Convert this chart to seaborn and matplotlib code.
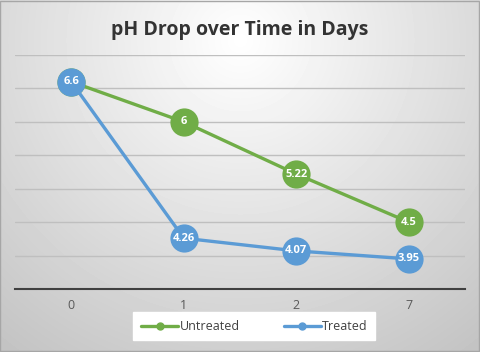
import numpy as np
import pandas as pd
import matplotlib.pyplot as plt
import seaborn as sns
from matplotlib.lines import Line2D

days = ['0', '1', '2', '7']
untreated = [6.6, 6.0, 5.22, 4.5]
treated = [6.6, 4.26, 4.07, 3.95]
untreated_labels = ['6.6', '6', '5.22', '4.5']
treated_labels = ['6.6', '4.26', '4.07', '3.95']

green = '#70AD47'
blue = '#5B9BD5'

sns.set_style('white')
plt.rcParams['font.family'] = ['Open Sans', 'DejaVu Sans']

fig = plt.figure(figsize=(4.8, 3.52), dpi=100)

# radial gradient background
bg = fig.add_axes([0, 0, 1, 1], zorder=-10)
yy, xx = np.mgrid[0:352, 0:480]
r = np.sqrt(((xx - 240) / 330.0) ** 2 + ((yy - 40) / 330.0) ** 2)
shade = np.clip(1.0 - 0.2 * r, 0, 1)
bg.imshow(shade, cmap='gray', vmin=0, vmax=1, aspect='auto', extent=[0, 1, 0, 1])
bg.set_axis_off()
bg.add_patch(plt.Rectangle((0.001, 0.002), 0.997, 0.995, transform=bg.transAxes,
                           fill=False, edgecolor='#A6A6A6', linewidth=1))

ax = fig.add_axes([15 / 480, 63 / 352, 450 / 480, 234 / 352])
ax.patch.set_alpha(0)

df = pd.DataFrame({'day': days * 2,
                   'ph': untreated + treated,
                   'series': ['Untreated'] * 4 + ['Treated'] * 4})

for name, color in [('Untreated', green), ('Treated', blue)]:
    sub = df[df['series'] == name]
    sns.pointplot(data=sub, x='day', y='ph', order=days, color=color, ax=ax,
                  markers='o', linewidth=2.4, legend=False)

for line in ax.lines:
    line.set_markersize(18.5)
    line.set_linewidth(2.4)
    line.set_zorder(3)

for i, (v, t) in enumerate(zip(untreated, untreated_labels)):
    if i == 0:
        continue
    ax.text(i, v, t, color='white', fontsize=8, fontweight='bold',
            ha='center', va='center', zorder=5)
for i, (v, t) in enumerate(zip(treated, treated_labels)):
    ax.text(i, v, t, color='white', fontsize=8, fontweight='bold',
            ha='center', va='center', zorder=5)

ax.set_ylim(3.5, 7.0)
ax.set_xlim(-0.5, 3.5)
ax.set_yticks(np.arange(4.0, 7.01, 0.5))
ax.set_yticklabels([])
ax.tick_params(axis='y', length=0)
ax.tick_params(axis='x', length=0, labelsize=9, colors='#595959', pad=7)
ax.grid(axis='y', color='#BFBFBF', linewidth=1)
ax.set_axisbelow(True)
for s in ['top', 'right', 'left']:
    ax.spines[s].set_visible(False)
ax.spines['bottom'].set_color('#404040')
ax.spines['bottom'].set_linewidth(1.5)
ax.set_xlabel('')
ax.set_ylabel('')

handles = [Line2D([], [], color=green, marker='o', markersize=5, linewidth=2.4),
           Line2D([], [], color=blue, marker='o', markersize=5, linewidth=2.4)]
leg = fig.legend(handles, ['Untreated', 'Treated'], loc='lower center',
                 bbox_to_anchor=(0.53, 0.015), ncol=2, frameon=True, fontsize=9,
                 handlelength=3, handletextpad=0.1, columnspacing=3.5,
                 borderpad=0.6, fancybox=False)
leg.get_frame().set_facecolor('white')
leg.get_frame().set_edgecolor('white')
leg.get_frame().set_alpha(1)
for t in leg.get_texts():
    t.set_color('#404040')

fig.text(0.5, 0.915, 'pH Drop over Time in Days', ha='center', va='center',
         fontsize=14, fontweight='bold', color='#333333')

fig.savefig('out.png', dpi=100)
